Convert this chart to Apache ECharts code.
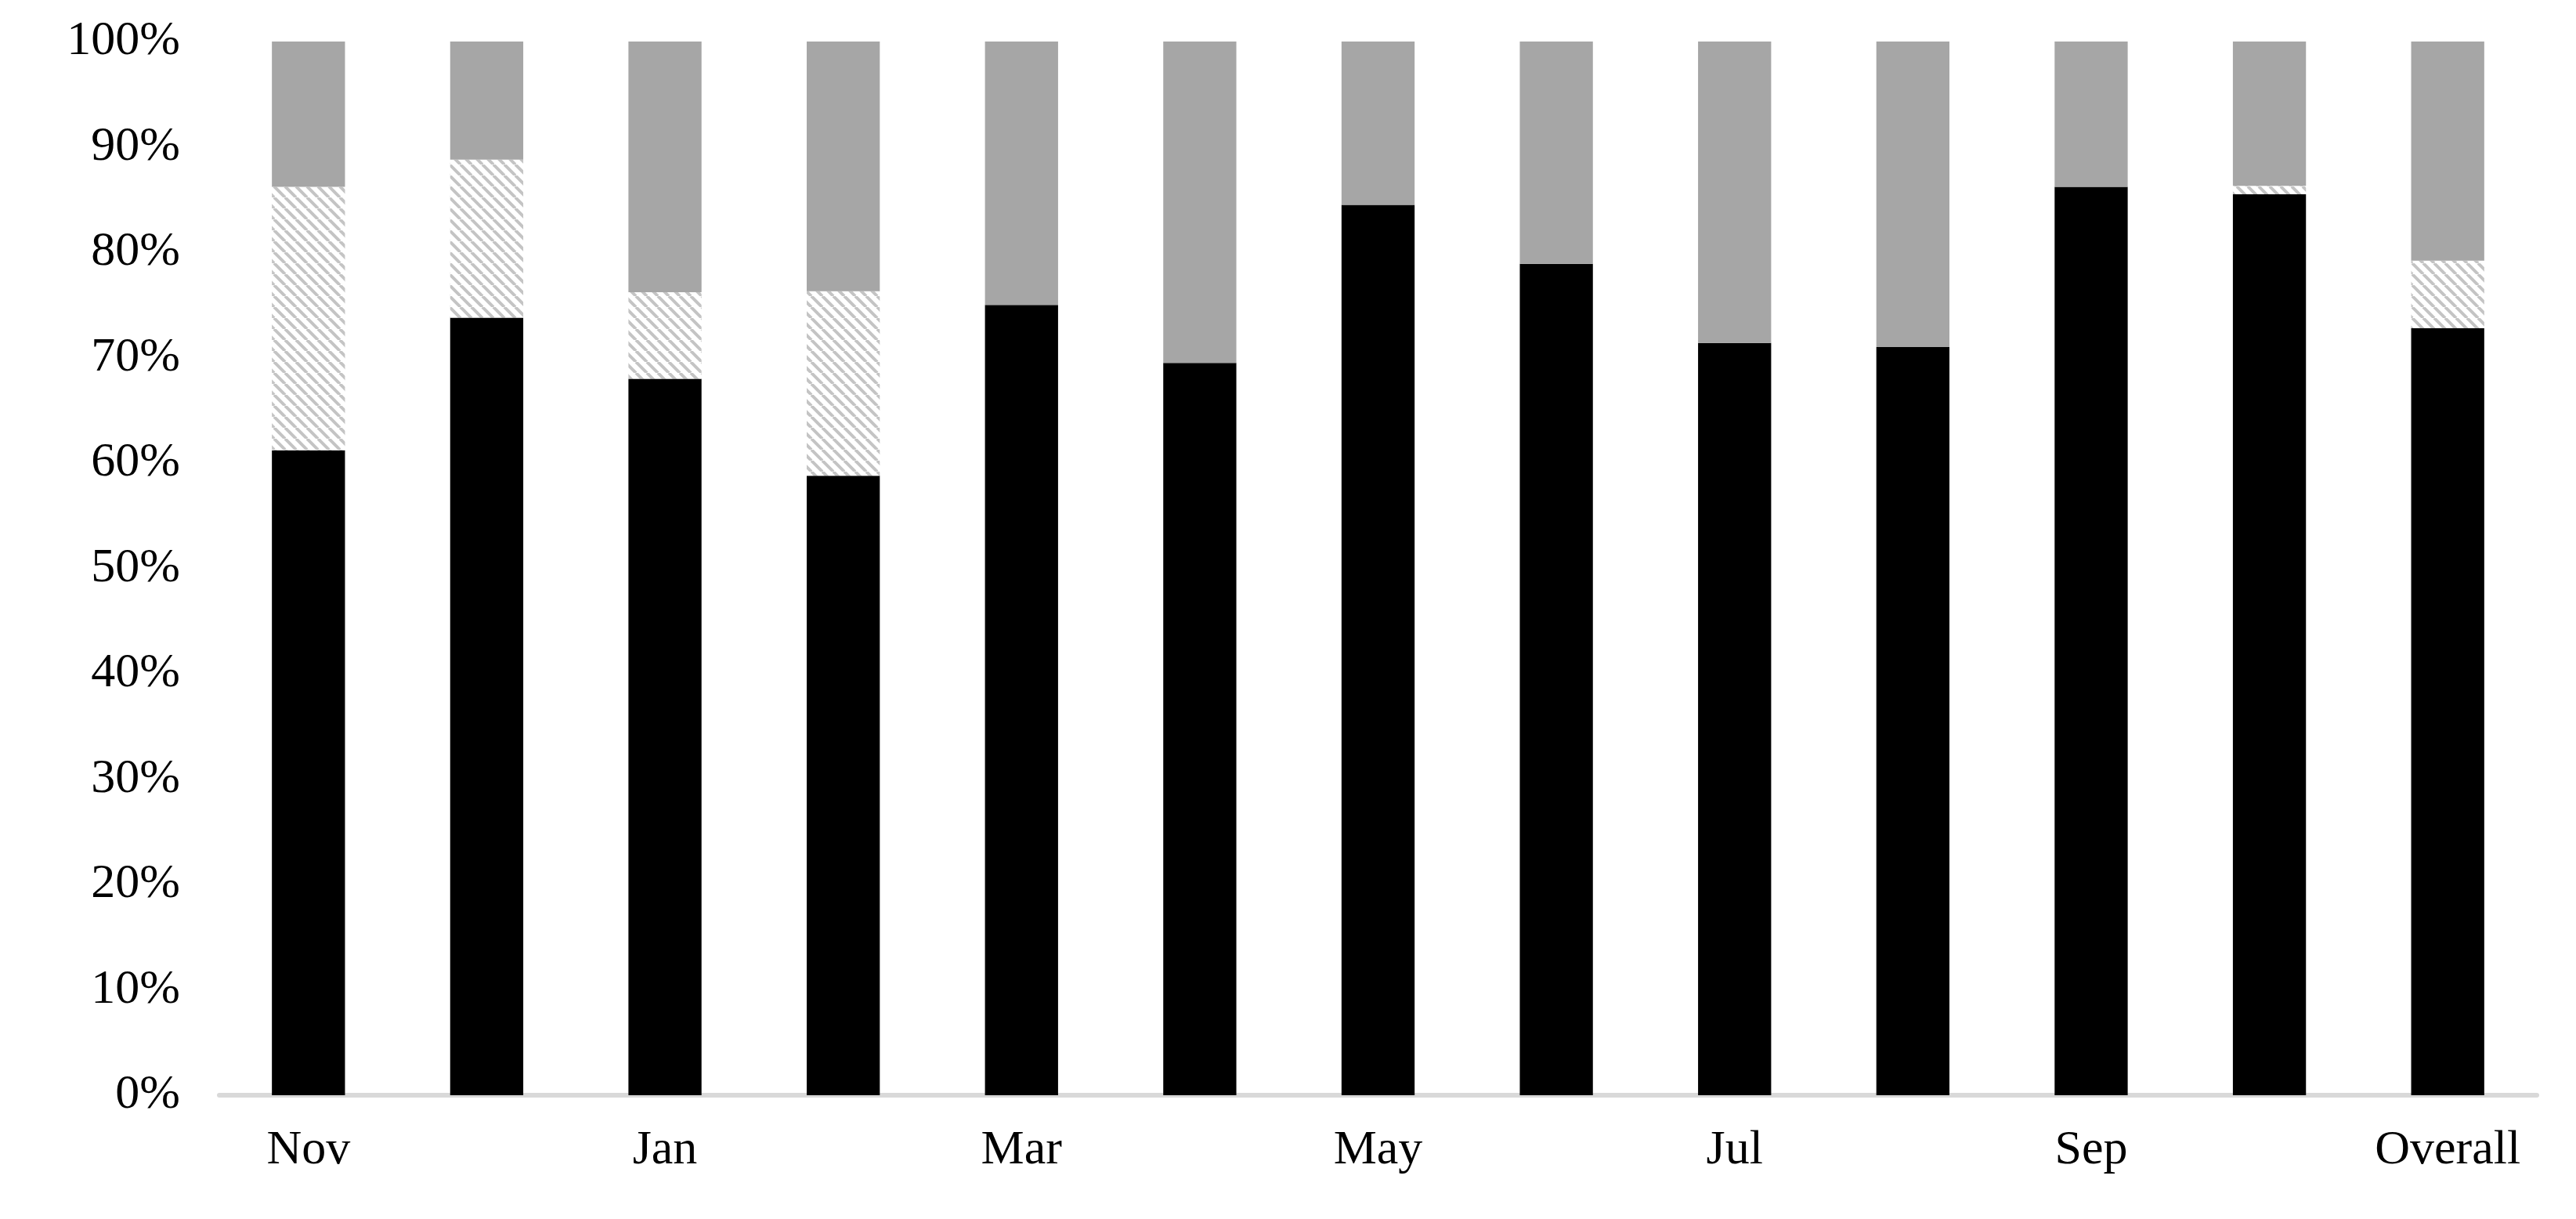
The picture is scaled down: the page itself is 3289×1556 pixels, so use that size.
<!DOCTYPE html>
<html>
<head>
<meta charset="utf-8">
<script src="https://cdn.jsdelivr.net/npm/echarts@6/dist/echarts.min.js"></script>
<style>html,body{margin:0;padding:0;background:#fff}#main{width:3289px;height:1556px}</style>
</head>
<body>
<div id="main"></div>
<script>
const categories = ['Nov', 'Dec', 'Jan', 'Feb', 'Mar', 'Apr', 'May', 'Jun', 'Jul', 'Aug', 'Sep', 'Oct', 'Overall'];
const solidValues = [61.2, 73.8, 68.0, 58.8, 75.0, 69.5, 84.5, 78.9, 71.4, 71.0, 86.2, 85.5, 72.8];
const hatchValues = [25.0, 15.0, 8.2, 17.5, 0, 0, 0, 0, 0, 0, 0, 0.8, 6.4];
const restValues = solidValues.map((v, i) => +(100 - v - hatchValues[i]).toFixed(1));
const yTicks = [0, 10, 20, 30, 40, 50, 60, 70, 80, 90, 100];

// diagonal light gray stripes
function stripes() {
    const c = document.createElement('canvas');
    c.width = 14; c.height = 14;
    const g = c.getContext('2d');
    g.fillStyle = '#fff';
    g.fillRect(0, 0, 14, 14);
    g.strokeStyle = '#c4c4c4';
    g.lineWidth = 4;
    for (let k = -14; k <= 28; k += 14) {
        g.beginPath();
        g.moveTo(k, 0);
        g.lineTo(k + 14, 14);
        g.stroke();
    }
    return c;
}

const chart = echarts.init(document.getElementById('main'));
const font = 'Liberation Serif';
chart.setOption({
    animation: false,
    grid: {left: 280, right: 50, top: 53, bottom: 158},
    xAxis: {
        type: 'category',
        data: categories,
        axisLine: {lineStyle: {color: '#d9d9d9', width: 6}},
        axisTick: {show: false},
        axisLabel: {color: '#000', fontFamily: font, fontSize: 62, margin: 40}
    },
    yAxis: {
        type: 'value',
        min: 0, max: 100, interval: 10,
        splitLine: {show: false},
        axisLine: {show: false},
        axisTick: {show: false},
        axisLabel: {color: '#000', fontFamily: font, fontSize: 62, margin: 50,
            formatter: v => yTicks.includes(v) ? v + '%' : ''}
    },
    series: [
        {type: 'bar', stack: 's', data: solidValues, barCategoryGap: '59%', itemStyle: {color: '#000'}},
        {type: 'bar', stack: 's', data: hatchValues, itemStyle: {color: {image: stripes(), repeat: 'repeat'}}},
        {type: 'bar', stack: 's', data: restValues, itemStyle: {color: '#a6a6a6'}}
    ]
});
</script>
</body>
</html>
